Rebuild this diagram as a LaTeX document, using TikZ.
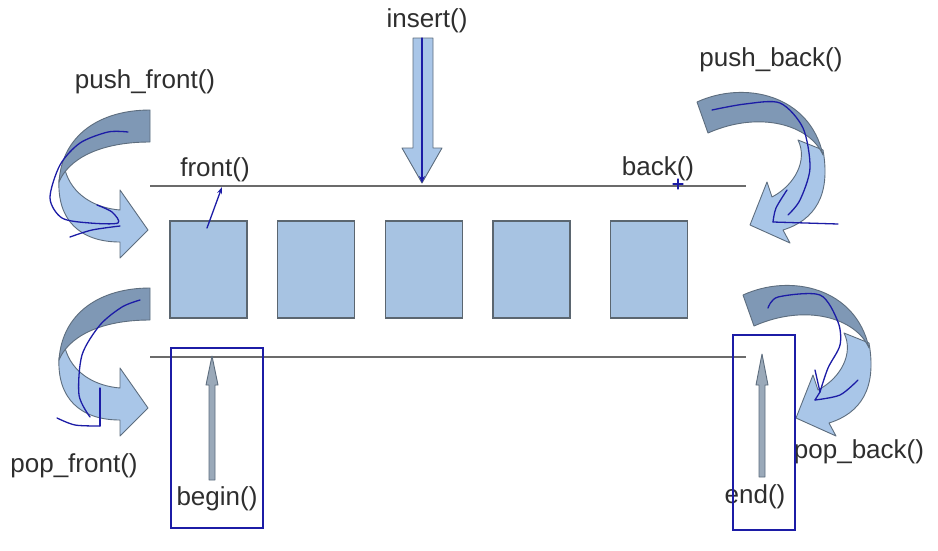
\documentclass[tikz,border=0pt]{standalone}
\usepackage{fontspec}
\setmainfont{Liberation Sans}
\usetikzlibrary{arrows.meta}
\definecolor{boxfill}{HTML}{A7C3E2}
\definecolor{boxline}{HTML}{5B6670}
\definecolor{rulecol}{HTML}{6B6B6B}
\definecolor{txt}{HTML}{2E2E2E}
\definecolor{pen}{HTML}{1C1CA6}
\definecolor{ribdark}{HTML}{7F98B5}
\definecolor{riblight}{HTML}{A9C6E8}
\definecolor{ribline}{HTML}{5D6D7E}
\definecolor{itfill}{HTML}{9AA9B9}
\begin{document}
\begin{tikzpicture}[x=1pt,y=-1pt,
  lbl/.style={text=txt,font=\fontsize{26}{26}\selectfont,inner sep=0pt},
  cell/.style={draw=boxline,line width=1.6pt,fill=boxfill,minimum width=77pt,minimum height=97pt,inner sep=0pt},
  rulel/.style={draw=rulecol,line width=1.6pt},
  ribd/.style={fill=ribdark,draw=ribline,line width=0.9pt,line join=round},
  ribl/.style={fill=riblight,draw=ribline,line width=0.9pt,line join=round},
  itarrow/.style={fill=itfill,draw=ribline,line width=0.9pt,line join=round},
  penline/.style={draw=pen,line width=1.3pt,line cap=round,line join=round},
  penbox/.style={draw=pen,line width=1.5pt}]
\useasboundingbox (0,0) rectangle (938,550);
\fill[white] (0,0) rectangle (938,550);

% cells
\node[cell] (c1) at (208.5,269.5) {};
\node[cell] (c2) at (316,269.5) {};
\node[cell] (c3) at (424,269.5) {};
\node[cell] (c4) at (531.5,269.5) {};
\node[cell] (c5) at (649,269.5) {};

% rules
\coordinate (tl) at (150,186);
\coordinate (tr) at (746,186);
\coordinate (bl) at (150,357);
\coordinate (br) at (746,357);
\draw[rulel] (tl) -- (tr);
\draw[rulel] (bl) -- (br);

% labels
\node[lbl] (front) at (215,170) {front()};
\node[lbl] (back) at (658,169) {back()};
\node[lbl] (ins) at (427,21) {insert()};
\node[lbl] (pf) at (145,82) {push\_front()};
\node[lbl] (pb) at (771,60) {push\_back()};
\node[lbl] (ppf) at (74,466) {pop\_front()};
\node[lbl] (ppb) at (859,452) {pop\_back()};
\node[lbl] (bg) at (217,499) {begin()};
\node[lbl] (en) at (755,497) {end()};

% insert arrow
\coordinate (instip) at (422,183);
\coordinate (instail) at (422,38);
\draw[ribl] (413,38) -- (433,38) -- (433,148) -- (442,148) -- (instip) -- (402,148) -- (413,148) -- cycle;
\draw[penline,-{Stealth[length=7pt,width=6pt]}] (instail) -- (instip);

% begin / end arrows
\coordinate (bgtip) at (212,356);
\coordinate (entip) at (762,354);
\draw[itarrow] (209,480) -- (209,385) -- (206,385) -- (bgtip) -- (218,385) -- (215,385) -- (215,480) -- cycle;
\draw[itarrow] (759,477) -- (759,385) -- (756,385) -- (entip) -- (768,385) -- (765,385) -- (765,477) -- cycle;

% curved arrows front side
\foreach \dy in {0,178}{
 \begin{scope}[yshift=-\dy pt]
  \draw[ribl] (65,170) .. controls (72,195) and (95,208) .. (120,210) -- (120,190) -- (148,230) -- (120,258) -- (120,242) .. controls (80,242) and (57,220) .. (59,180) -- cycle;
  \draw[ribd] (150,110) .. controls (100,110) and (62,135) .. (59,182) .. controls (68,160) and (98,142) .. (150,142) -- cycle;
 \end{scope}
}
% curved arrows back side
\foreach \dx/\dy in {0/0,46/193}{
 \begin{scope}[xshift=\dx pt,yshift=-\dy pt]
  \draw[ribl] (798,140) .. controls (808,160) and (795,185) .. (772,197) -- (767,182) -- (750,225) -- (790,243) -- (783,230) .. controls (815,220) and (831,195) .. (823,150) -- cycle;
  \draw[ribd] (697,102) .. controls (745,80) and (810,95) .. (823,155) .. controls (810,125) and (760,110) .. (708,133) -- cycle;
 \end{scope}
}

% blue pen annotations
\coordinate (fr0) at (207,228);
\coordinate (fr1) at (222,187);
\draw[penline,-{Stealth[length=7pt,width=5pt]}] (fr0) -- (fr1);
\draw[penline] (673,184) -- (683,184) (678,179) -- (678,189);
\draw[penbox] (171,348) rectangle (263,528);
\draw[penbox] (733,335) rectangle (795,530);

\draw[penline] plot[smooth] coordinates {(128,132) (108,132) (80,143) (60,165) (50,198) (62,218) (90,223) (118,223) (112,212) (97,205)};
\draw[penline] plot[smooth] coordinates {(70,237) (92,230) (120,226)};

\draw[penline] plot[smooth] coordinates {(140,300) (122,307) (100,325) (82,355) (79,395) (90,417)};
\draw[penline] plot[smooth] coordinates {(57,418) (75,425) (100,426)};
\draw[penline] (100,426) -- (100,388);

\draw[penline] plot[smooth] coordinates {(712,110) (745,104) (780,103) (803,128) (810,168) (800,200) (788,215)};
\draw[penline] plot[smooth] coordinates {(787,190) (776,208) (773,222)};
\draw[penline] (773,222) -- (838,224);

\draw[penline] plot[smooth] coordinates {(768,308) (778,297) (820,295) (838,322) (840,345) (828,368) (820,392)};
\draw[penline] plot[smooth] coordinates {(815,400) (840,395) (858,380)};
\draw[penline] (815,370) -- (820,392) -- (815,400);
\end{tikzpicture}
\end{document}
